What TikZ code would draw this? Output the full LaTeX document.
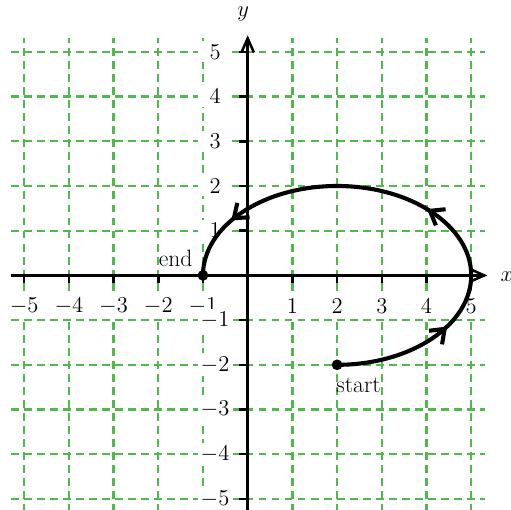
\documentclass[tikz,border=0pt]{standalone}
\usetikzlibrary{arrows.meta,decorations.markings}
\definecolor{gridgreen}{RGB}{80,184,76}
\begin{document}
\begin{tikzpicture}[
  gridline/.style={gridgreen, line width=1.5pt, dash pattern=on 5pt off 3.3pt},
  axis/.style={line width=1.6pt, -{Straight Barb[length=9pt,width=8pt]}},
  tickmark/.style={line width=1.6pt},
  numfont/.style={font=\fontsize{15.5}{17}\selectfont},
  xlab/.style={numfont, fill=white, inner sep=2pt, minimum height=0.58cm},
  ylab/.style={numfont, fill=white, inner sep=2pt, minimum width=0.75cm},
  curve/.style={line width=2.6pt},
  curvearrow/.style={decoration={markings,
      mark=at position 0.224 with {\arrow{Straight Barb[length=8pt,width=12pt]}},
      mark=at position 0.49 with {\arrow{Straight Barb[length=8pt,width=12pt]}},
      mark=at position 0.88 with {\arrow{Straight Barb[length=8pt,width=12pt]}}},
      postaction={decorate}},
  dot/.style={circle, fill=black, inner sep=0pt, minimum size=0.24cm},
  txt/.style={font=\fontsize{15}{17}\selectfont, inner sep=0pt}
]
\useasboundingbox (-5.54,-5.23) rectangle (5.89,6.16);
% grid
\foreach \i in {-5,...,5} {
  \draw[gridline] (\i,-5.3) -- (\i,5.3);
  \draw[gridline] (-5.3,\i) -- (5.3,\i);
}
% axes
\coordinate (xmin) at (-5.3,0);
\coordinate (xmax) at (5.36,0);
\coordinate (ymin) at (0,-5.3);
\coordinate (ymax) at (0,5.37);
\draw[axis] (xmin) -- (xmax);
\draw[axis] (ymin) -- (ymax);
\node[txt] (xname) at (5.8,-0.02) {$x$};
\node[txt] (yname) at (-0.1,5.84) {$y$};
% ticks
\foreach \i in {-5,...,-1,1,2,3,4,5} {
  \draw[tickmark] (\i,0) -- (\i,-0.17);
  \draw[tickmark] (0,\i) -- (-0.2,\i);
}
% x labels
\foreach \i in {-5,...,-1,1,2,3,4,5} {
  \node[xlab] (xl\i) at (\i,-0.68) {$\i$};
}
% y labels
\foreach \i in {-5,...,-1,1,2,3,4,5} {
  \node[ylab] (yl\i) at (-0.73,\i) {$\i$};
}
% curve
\coordinate (s) at (2,-2);
\coordinate (e) at (-1,0);
\draw[curve, curvearrow] (s) arc[start angle=-90, end angle=180, x radius=3, y radius=2];
\node[dot] (sdot) at (s) {};
\node[dot] (edot) at (e) {};
\node[txt] (start) at (2.48,-2.46) {start};
\node[txt] (end) at (-1.61,0.39) {end};
\end{tikzpicture}
\end{document}
